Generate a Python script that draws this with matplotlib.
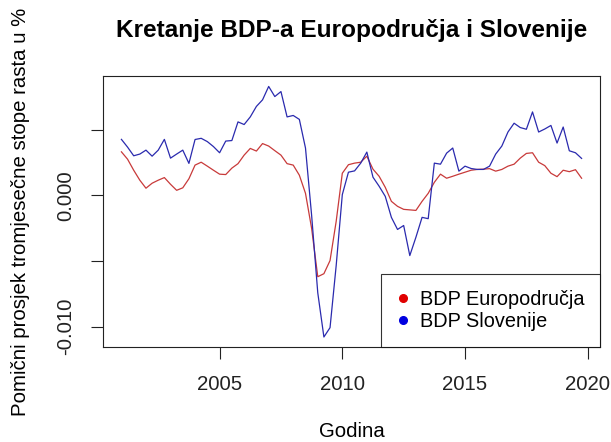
import numpy as np
import matplotlib
matplotlib.use("Agg")
import matplotlib.pyplot as plt
from matplotlib.lines import Line2D

plt.rcParams['font.family'] = ['Liberation Sans', 'DejaVu Sans']

# --- podaci: pomični prosjek tromjesečne stope rasta, kvartalno 2001Q1-2019Q4 ---
godine = np.arange(2001, 2020, 0.25)

bdp_eurozona = [
    0.00331, 0.00275, 0.00191, 0.00115, 0.00054, 0.00092, 0.00115, 0.00135, 0.00084, 0.00038,
    0.00057, 0.00126, 0.00230, 0.00252, 0.00222, 0.00191, 0.00161, 0.00158, 0.00207, 0.00241,
    0.00306, 0.00357, 0.00337, 0.00394, 0.00375, 0.00340, 0.00306, 0.00241, 0.00230, 0.00153,
    0.00015, -0.00252, -0.00620, -0.00597, -0.00497, -0.00199, 0.00168, 0.00233, 0.00245, 0.00252,
    0.00298, 0.00199, 0.00145, 0.00061, -0.00046, -0.00084, -0.00107, -0.00111, -0.00115, -0.00046,
    0.00015, 0.00099, 0.00161, 0.00130, 0.00145, 0.00161, 0.00176, 0.00191, 0.00197, 0.00199,
    0.00203, 0.00184, 0.00197, 0.00222, 0.00237, 0.00283, 0.00319, 0.00324, 0.00252, 0.00226,
    0.00168, 0.00142, 0.00191, 0.00180, 0.00195, 0.00130,
]

bdp_slovenija = [
    0.00426, 0.00367, 0.00301, 0.00314, 0.00344, 0.00298, 0.00344, 0.00426, 0.00283, 0.00314,
    0.00344, 0.00243, 0.00425, 0.00434, 0.00409, 0.00371, 0.00324, 0.00413, 0.00417, 0.00559,
    0.00539, 0.00597, 0.00677, 0.00727, 0.00829, 0.00752, 0.00790, 0.00597, 0.00608, 0.00578,
    0.00360, -0.00153, -0.00742, -0.01079, -0.01008, -0.00536, 0.00005, 0.00176, 0.00186, 0.00245,
    0.00329, 0.00138, 0.00069, -0.00008, -0.00168, -0.00260, -0.00230, -0.00459, -0.00319, -0.00168,
    -0.00178, 0.00245, 0.00237, 0.00321, 0.00360, 0.00184, 0.00222, 0.00204, 0.00197, 0.00197,
    0.00222, 0.00314, 0.00375, 0.00482, 0.00549, 0.00516, 0.00503, 0.00635, 0.00482, 0.00505,
    0.00532, 0.00398, 0.00520, 0.00339, 0.00324, 0.00281,
]

x_ticks = [2005, 2010, 2015, 2020]
y_ticks = [-0.010, -0.005, 0.000, 0.005]
y_tick_labels = ['-0.010', '', '0.000', '']

fs = 14.7

fig = plt.figure(figsize=(6.11, 4.42), dpi=100)
ax = fig.add_axes([0.1686, 0.215, 0.8134, 0.612])

ax.plot(godine, bdp_eurozona, color='#c83a3a', lw=0.9)
ax.plot(godine, bdp_slovenija, color='#2a2aae', lw=0.9)

ax.set_xlim(2000.25, 2020.5)
ax.set_ylim(-0.01155, 0.00905)

ax.set_xticks(x_ticks)
ax.set_xticklabels([str(t) for t in x_ticks])
ax.set_yticks(y_ticks)
ax.set_yticklabels(y_tick_labels, rotation=90, va='center')
ax.tick_params(labelsize=fs, length=8.6, width=0.8, pad=11.5, colors='#222222')

for s in ax.spines.values():
    s.set_linewidth(0.8)
    s.set_color('#222222')

# legenda
handles = [
    Line2D([], [], ls='none', marker='o', ms=5.5, color='#e00000'),
    Line2D([], [], ls='none', marker='o', ms=5.5, color='#0000e0'),
]
leg = ax.legend(handles, ['BDP Europodručja', 'BDP Slovenije'], loc='lower right',
                fontsize=14.3, frameon=True, fancybox=False, borderaxespad=0,
                borderpad=0.8, labelspacing=0.15, handlelength=0.6, handletextpad=0.55)
leg.get_frame().set_edgecolor('black')
leg.get_frame().set_linewidth(0.8)

fig.text(0.5753, 1 - 37 / 442, 'Kretanje BDP-a Europodručja i Slovenije',
         ha='center', va='baseline', fontsize=17.6, fontweight='bold')
fig.text(0.5753, 1 - 437 / 442, 'Godina', ha='center', va='baseline', fontsize=fs)
fig.text(20.5 / 611, 0.5215, 'Pomični prosjek tromjesečne stope rasta u %',
         rotation=90, ha='center', va='center', fontsize=fs)

fig.savefig('out.png', dpi=100)
